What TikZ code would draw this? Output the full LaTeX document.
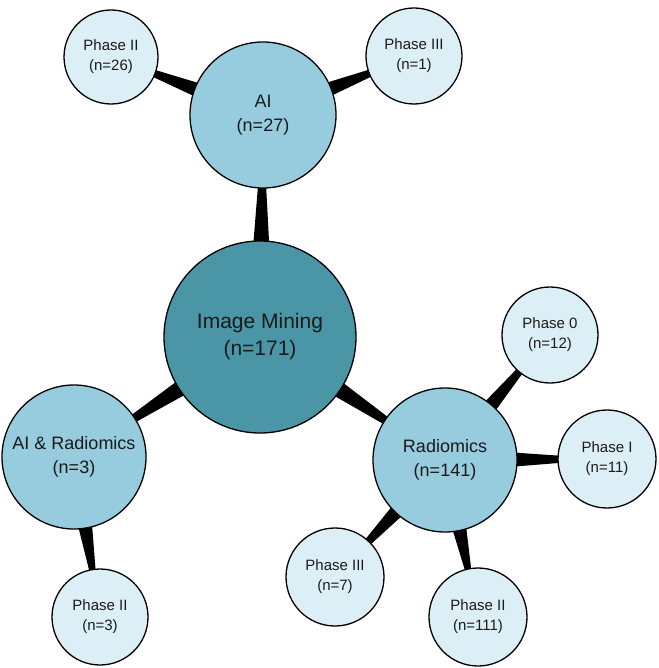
\documentclass[tikz,border=0pt]{standalone}
\usepackage{fontspec}
\setmainfont{Liberation Sans}
\usetikzlibrary{calc,backgrounds}
\definecolor{hubfill}{HTML}{4A95A6}
\definecolor{midfill}{HTML}{96CCDE}
\definecolor{leaffill}{HTML}{DDEFF6}
\definecolor{inktext}{HTML}{1A1A1A}
\tikzset{
  bubble/.style={circle, draw=black, line width=1.3pt, inner sep=0pt, align=center, text=inktext},
  hub/.style={bubble, fill=hubfill, minimum size=192pt, font=\fontsize{21}{27}\selectfont},
  mid/.style={bubble, fill=midfill, font=\fontsize{18}{24}\selectfont},
  leaf/.style={bubble, fill=leaffill, minimum size=96pt, font=\fontsize{15}{20}\selectfont},
}
\newcommand\wedgelink[6]{%
  \path ($(#1)!#3!(#2)$) coordinate (wa) ($(#2)!#4!(#1)$) coordinate (wb);
  \fill[black] ($(wa)!#5!90:(wb)$) -- ($(wb)!#6!-90:(wa)$) -- ($(wb)!#6!90:(wa)$) -- ($(wa)!#5!-90:(wb)$) -- cycle;
}
\begin{document}
\begin{tikzpicture}[x=1pt,y=-1pt]
\useasboundingbox (0,0) rectangle (658,668);
\node[hub] (im) at (260,337) {Image Mining\\(n=171)};
\node[mid, minimum size=146pt] (ai) at (263,115) {AI\\(n=27)};
\node[mid, minimum size=144pt] (air) at (74,457) {AI \& Radiomics\\(n=3)};
\node[mid, minimum size=144pt] (rad) at (445,460) {Radiomics\\(n=141)};
\node[leaf, minimum size=94pt] (p2a) at (111,57) {Phase II\\(n=26)};
\node[leaf] (p3a) at (414,56) {Phase III\\(n=1)};
\node[leaf] (p0) at (550,335) {Phase 0\\(n=12)};
\node[leaf, minimum size=98pt] (p1) at (607,459) {Phase I\\(n=11)};
\node[leaf, minimum size=98pt] (p3b) at (335,577) {Phase III\\(n=7)};
\node[leaf, minimum size=98pt] (p2b) at (478,617) {Phase II\\(n=111)};
\node[leaf] (p2c) at (100,617) {Phase II\\(n=3)};
\begin{scope}[on background layer]
\wedgelink{im}{ai}{92pt}{70pt}{8pt}{4pt}
\wedgelink{im}{air}{92pt}{69pt}{8pt}{4pt}
\wedgelink{im}{rad}{92pt}{69pt}{8pt}{4pt}
\wedgelink{ai}{p2a}{70pt}{44pt}{7pt}{3.5pt}
\wedgelink{ai}{p3a}{70pt}{45pt}{7pt}{3.5pt}
\wedgelink{air}{p2c}{69pt}{45pt}{7pt}{3pt}
\wedgelink{rad}{p0}{69pt}{45pt}{7pt}{3.5pt}
\wedgelink{rad}{p1}{69pt}{46pt}{7pt}{3.5pt}
\wedgelink{rad}{p3b}{69pt}{46pt}{7pt}{3.5pt}
\wedgelink{rad}{p2b}{69pt}{46pt}{7pt}{3pt}
\end{scope}
\end{tikzpicture}
\end{document}
